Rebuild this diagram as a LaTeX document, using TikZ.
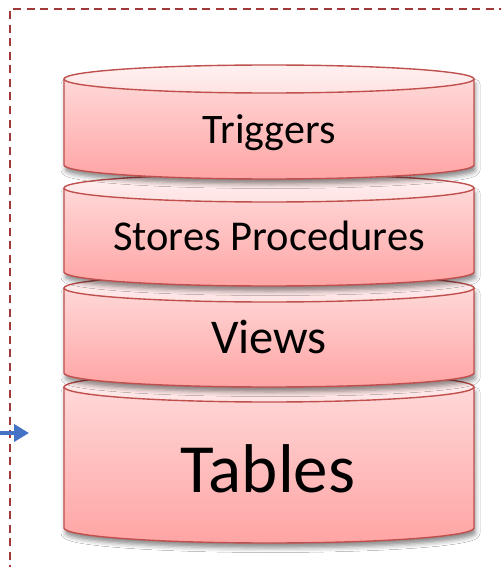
\documentclass[tikz,border=0pt]{standalone}
\usepackage{fontspec}
\setmainfont{Carlito}
\usetikzlibrary{arrows.meta,shadows.blur}

\definecolor{diskline}{RGB}{192,80,77}
\definecolor{bodytop}{RGB}{255,216,216}
\definecolor{bodybottom}{RGB}{255,164,164}
\definecolor{captop}{RGB}{255,241,241}
\definecolor{capbottom}{RGB}{255,226,226}
\definecolor{framered}{RGB}{160,58,58}
\definecolor{feedblue}{RGB}{68,114,196}

\tikzset{
  disk body/.style={draw=diskline, line width=1.4pt, line join=round,
    top color=bodytop, bottom color=bodybottom,
    blur shadow={shadow xshift=1.5pt, shadow yshift=-5pt,
      shadow blur radius=4.5pt, shadow opacity=45}},
  disk cap/.style={draw=diskline, line width=1.4pt,
    top color=captop, bottom color=capbottom},
  disk label/.style={inner sep=0pt, anchor=base, text=black},
  boundary/.style={draw=framered, line width=2pt, dash pattern=on 8pt off 5.5pt},
  feed arrow/.style={draw=feedblue, line width=4.5pt,
    -{Triangle[length=15pt,width=17pt]}},
}

% one layer of the stack: top y, bottom y, y radius
\newcommand\dbdisk[3]{%
  \path[disk body] (64,#1) -- (64,#2)
    arc[start angle=180, end angle=360, x radius=205pt, y radius=#3pt]
    -- (474,#1) -- cycle;
  \path[disk cap] (269,#1) ellipse[x radius=205pt, y radius=#3pt];
}

\begin{document}
\begin{tikzpicture}[x=1pt,y=-1pt]
  \useasboundingbox (0,0) rectangle (501,567);
  \fill[white] (0,0) rectangle (501,567);
  \begin{scope}
    \clip (0,0) rectangle (501,567);
    % dashed boundary running off the right and bottom edges
    \draw[boundary] (9.5,600) -- (9.5,9.5) -- (540,9.5);
  \end{scope}

  % the stack, drawn from the bottom up so each shadow falls on the layer below
  \dbdisk{387}{528}{15}
  \node[disk label, font=\fontsize{69}{69}\selectfont] (tables) at (268,492) {Tables};
  \dbdisk{288}{373}{14}
  \node[disk label, font=\fontsize{48.5}{48.5}\selectfont] (views) at (269,353) {Views};
  \dbdisk{188}{272}{14}
  \node[disk label, font=\fontsize{42.5}{42.5}\selectfont] (procs) at (269,250) {Stores Procedures};
  \dbdisk{79}{165}{14}
  \node[disk label, font=\fontsize{42}{42}\selectfont] (trig) at (269,143) {Triggers};

  % incoming arrow on the left
  \coordinate (feed) at (0,433);
  \coordinate (feedtip) at (29,433);
  \draw[feed arrow] (feed) -- (feedtip);
\end{tikzpicture}
\end{document}
